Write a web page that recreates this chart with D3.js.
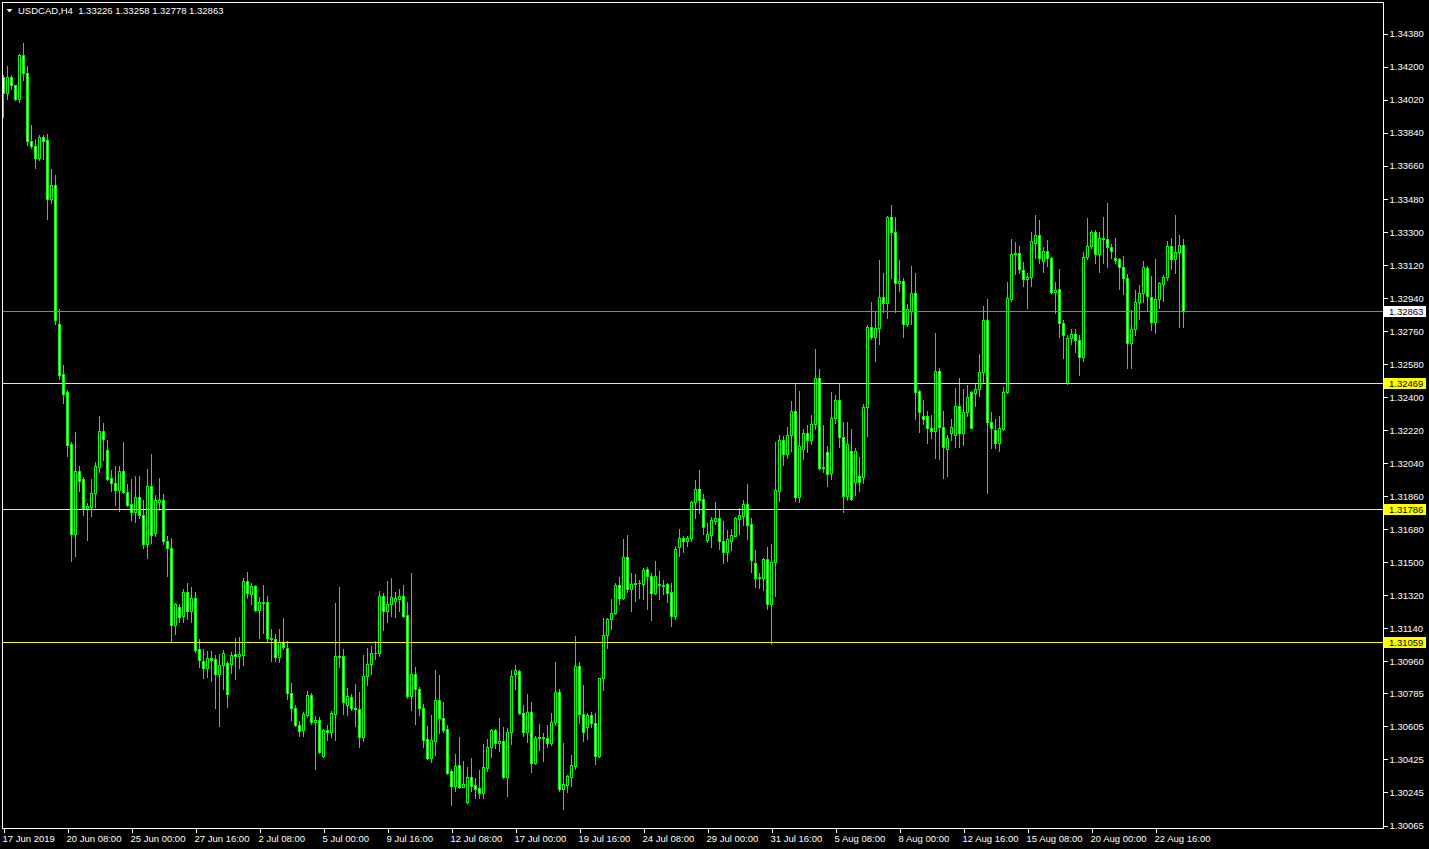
<!DOCTYPE html>
<html>
<head>
<meta charset="utf-8">
<title>USDCAD,H4</title>
<script src="https://cdn.jsdelivr.net/npm/d3@7"></script>
<style>
  html, body { margin: 0; padding: 0; background: #000; overflow: hidden; }
  svg { display: block; }
  text { font-family: "Liberation Sans", Arial, sans-serif; font-size: 9.5px; }
</style>
</head>
<body>
<svg id="chart"></svg>
<script>
//---------------------
// data: USDCAD H4, one value per bar
//---------------------
const symbol = "USDCAD";
const period = "H4";

const opens = [
  1.34143,1.34051,1.34143,1.34094,1.34020,1.34259,1.34163,1.33790,1.33767,1.33701,
  1.33812,1.33795,1.33476,1.33551,1.32795,1.32522,1.32422,1.32141,1.31648,1.31994,
  1.31952,1.31792,1.31798,1.31874,1.32016,1.32212,1.32108,1.31956,1.31929,1.31892,
  1.31995,1.31880,1.31816,1.31771,1.31852,1.31756,1.31594,1.31914,1.31657,1.31824,
  1.31838,1.31615,1.31576,1.31156,1.31250,1.31205,1.31335,1.31231,1.31304,1.31024,
  1.30957,1.30921,1.30975,1.30970,1.30885,1.30934,1.30948,1.30943,1.30997,1.30988,
  1.30993,1.31395,1.31322,1.31368,1.31235,1.31279,1.31279,1.31083,1.31077,1.30979,
  1.31064,1.31028,1.30786,1.30701,1.30610,1.30583,1.30665,1.30774,1.30625,1.30637,
  1.30443,1.30583,1.30574,1.30669,1.30986,1.30986,1.30719,1.30764,1.30701,1.30697,
  1.30546,1.30877,1.30943,1.31001,1.31001,1.31313,1.31233,1.31268,1.31287,1.31298,
  1.31313,1.31210,1.30770,1.30886,1.30806,1.30701,1.30532,1.30432,1.30525,1.30746,
  1.30647,1.30588,1.30360,1.30280,1.30392,1.30274,1.30192,1.30325,1.30283,1.30265,
  1.30238,1.30378,1.30489,1.30583,1.30511,1.30525,1.30329,1.30570,1.30886,1.30906,
  1.30677,1.30574,1.30683,1.30402,1.30538,1.30546,1.30538,1.30514,1.30625,1.30788,
  1.30260,1.30283,1.30325,1.30389,1.30932,1.30670,1.30601,1.30665,1.30620,1.30443,
  1.30868,1.31099,1.31186,1.31222,1.31373,1.31304,1.31524,1.31350,1.31377,1.31382,
  1.31377,1.31458,1.31424,1.31331,1.31378,1.31373,1.31377,1.31333,1.31206,1.31577,
  1.31626,1.31613,1.31626,1.31827,1.31898,1.31839,1.31618,1.31645,1.31722,1.31740,
  1.31610,1.31550,1.31610,1.31640,1.31731,1.31749,1.31813,1.31704,1.31491,1.31411,
  1.31411,1.31515,1.31269,1.31496,1.31886,1.32165,1.32089,1.32189,1.32319,1.31852,
  1.32114,1.32201,1.32161,1.32250,1.32501,1.32012,1.32096,1.31982,1.32281,1.32381,
  1.32181,1.31859,1.32103,1.31936,1.31967,1.31963,1.32341,1.32777,1.32722,1.32771,
  1.32944,1.32908,1.33376,1.33298,1.33017,1.33029,1.32793,1.32867,1.32962,1.32430,
  1.32294,1.32294,1.32227,1.32214,1.32540,1.32235,1.32112,1.32199,1.32190,1.32350,
  1.32199,1.32314,1.32423,1.32421,1.32439,1.32535,1.32817,1.32259,1.32217,1.32148,
  1.32223,1.32423,1.32931,1.33176,1.33180,1.33089,1.33038,1.33049,1.33238,1.33280,
  1.33138,1.33193,1.33156,1.32971,1.32984,1.32799,1.32475,1.32717,1.32739,1.32708,
  1.32617,1.33158,1.33221,1.33298,1.33175,1.33262,1.33258,1.33216,1.33153,1.33147,
  1.33107,1.33044,1.32690,1.32766,1.32916,1.32965,1.33098,1.32944,1.32807,1.32929,
  1.33013,1.33049,1.33220,1.33147,1.33189,1.33226
];

const highs = [
  1.34151,1.34198,1.34149,1.34097,1.34265,1.34324,1.34198,1.33879,1.33804,1.33823,
  1.33823,1.33830,1.33639,1.33607,1.32874,1.32572,1.32436,1.32150,1.32207,1.32021,
  1.31963,1.31820,1.31948,1.32043,1.32294,1.32256,1.32163,1.31999,1.32019,1.32019,
  1.32149,1.31925,1.31952,1.31965,1.31965,1.31838,1.32006,1.32088,1.31865,1.31956,
  1.31870,1.31640,1.31626,1.31272,1.31269,1.31351,1.31382,1.31362,1.31335,1.31079,
  1.31024,1.31011,1.31011,1.30992,1.30997,1.31020,1.30961,1.31008,1.31082,1.31087,
  1.31409,1.31444,1.31382,1.31373,1.31306,1.31373,1.31313,1.31132,1.31106,1.31132,
  1.31192,1.31068,1.30837,1.30719,1.30632,1.30683,1.30795,1.30783,1.30661,1.30656,
  1.30588,1.30610,1.30687,1.31277,1.31364,1.31024,1.30813,1.30779,1.30834,1.30792,
  1.30992,1.31028,1.31041,1.31068,1.31340,1.31328,1.31395,1.31413,1.31333,1.31351,
  1.31373,1.31282,1.31440,1.30925,1.30819,1.30725,1.30605,1.30665,1.30910,1.30883,
  1.30737,1.30610,1.30370,1.30452,1.30546,1.30414,1.30383,1.30429,1.30320,1.30365,
  1.30507,1.30534,1.30588,1.30587,1.30647,1.30598,1.30592,1.30910,1.30937,1.30910,
  1.30719,1.30779,1.30734,1.30550,1.30614,1.30565,1.30610,1.30677,1.30953,1.30805,
  1.30511,1.30335,1.30447,1.31095,1.30952,1.30828,1.30674,1.30683,1.30674,1.30866,
  1.31193,1.31192,1.31297,1.31385,1.31418,1.31623,1.31645,1.31437,1.31433,1.31400,
  1.31467,1.31473,1.31437,1.31504,1.31449,1.31400,1.31385,1.31385,1.31587,1.31678,
  1.31640,1.31640,1.31831,1.31943,1.31997,1.31867,1.31713,1.31743,1.31827,1.31782,
  1.31722,1.31673,1.31680,1.31743,1.31794,1.31834,1.31921,1.31740,1.31565,1.31438,
  1.31520,1.31577,1.31596,1.32152,1.32192,1.32183,1.32234,1.32376,1.32472,1.32431,
  1.32220,1.32246,1.32301,1.32659,1.32550,1.32245,1.32130,1.32423,1.32408,1.32468,
  1.32259,1.32259,1.32221,1.32121,1.32072,1.32359,1.32789,1.32913,1.32862,1.33144,
  1.33071,1.33385,1.33443,1.33376,1.33144,1.33044,1.32904,1.33111,1.33071,1.32435,
  1.32381,1.32321,1.32299,1.32744,1.32554,1.32321,1.32190,1.32277,1.32445,1.32499,
  1.32439,1.32463,1.32430,1.32472,1.32631,1.32893,1.32931,1.32317,1.32277,1.32294,
  1.32450,1.33025,1.33258,1.33243,1.33220,1.33134,1.33071,1.33294,1.33389,1.33361,
  1.33216,1.33253,1.33160,1.33025,1.33095,1.32817,1.32735,1.32766,1.32766,1.32735,
  1.33189,1.33371,1.33307,1.33307,1.33294,1.33376,1.33452,1.33231,1.33262,1.33156,
  1.33165,1.33067,1.32871,1.32980,1.33007,1.33138,1.33112,1.33056,1.33147,1.33025,
  1.33062,1.33247,1.33262,1.33389,1.33280,1.33258
];

const lows = [
  1.33923,1.34020,1.34075,1.34015,1.34002,1.34125,1.33771,1.33754,1.33643,1.33688,
  1.33694,1.33367,1.33454,1.32792,1.32495,1.32366,1.32074,1.31506,1.31531,1.31885,
  1.31754,1.31620,1.31746,1.31798,1.31989,1.32051,1.31945,1.31885,1.31811,1.31776,
  1.31874,1.31803,1.31727,1.31716,1.31738,1.31576,1.31518,1.31603,1.31640,1.31782,
  1.31594,1.31422,1.31066,1.31106,1.31169,1.31172,1.31190,1.31172,1.31010,1.30926,
  1.30866,1.30872,1.30852,1.30703,1.30603,1.30804,1.30708,1.30894,1.30858,1.30921,
  1.30937,1.31304,1.31269,1.31231,1.31086,1.31110,1.31064,1.30961,1.30961,1.30955,
  1.31024,1.30750,1.30637,1.30606,1.30552,1.30552,1.30656,1.30616,1.30370,1.30456,
  1.30438,1.30529,1.30546,1.30529,1.30928,1.30670,1.30665,1.30692,1.30606,1.30489,
  1.30525,1.30828,1.30886,1.30970,1.30988,1.31128,1.31173,1.31206,1.31200,1.31233,
  1.31200,1.30756,1.30692,1.30616,1.30665,1.30492,1.30423,1.30407,1.30447,1.30565,
  1.30574,1.30343,1.30174,1.30252,1.30265,1.30271,1.30185,1.30252,1.30211,1.30214,
  1.30211,1.30361,1.30438,1.30487,1.30470,1.30323,1.30225,1.30505,1.30805,1.30670,
  1.30552,1.30519,1.30353,1.30398,1.30474,1.30416,1.30492,1.30501,1.30610,1.30252,
  1.30153,1.30247,1.30278,1.30369,1.30620,1.30525,1.30532,1.30598,1.30398,1.30438,
  1.30801,1.31031,1.31132,1.31215,1.31269,1.31297,1.31336,1.31233,1.31287,1.31300,
  1.31295,1.31242,1.31182,1.31322,1.31297,1.31322,1.31282,1.31151,1.31186,1.31532,
  1.31553,1.31585,1.31613,1.31740,1.31764,1.31651,1.31607,1.31581,1.31705,1.31569,
  1.31493,1.31505,1.31565,1.31637,1.31651,1.31700,1.31624,1.31442,1.31362,1.31355,
  1.31347,1.31242,1.31053,1.31310,1.31831,1.32027,1.32062,1.32103,1.31831,1.31825,
  1.32057,1.32098,1.32143,1.32223,1.32002,1.31990,1.31914,1.31949,1.32254,1.32123,
  1.31772,1.31836,1.31836,1.31863,1.31885,1.31930,1.32186,1.32712,1.32593,1.32686,
  1.32862,1.32829,1.33047,1.32862,1.32976,1.32722,1.32784,1.32795,1.32277,1.32208,
  1.32250,1.32145,1.32172,1.32066,1.32058,1.31958,1.31968,1.32163,1.32126,1.32126,
  1.32136,1.32294,1.32227,1.32350,1.32404,1.32475,1.31873,1.32121,1.32118,1.32105,
  1.32217,1.32417,1.32922,1.33066,1.33071,1.33002,1.32884,1.33002,1.33153,1.33126,
  1.33080,1.33112,1.32965,1.32853,1.32726,1.32611,1.32470,1.32686,1.32641,1.32517,
  1.32595,1.33149,1.33207,1.33126,1.33080,1.33129,1.33107,1.33153,1.33126,1.32984,
  1.32957,1.32557,1.32557,1.32735,1.32821,1.32916,1.32871,1.32762,1.32748,1.32880,
  1.32922,1.33035,1.33095,1.33074,1.32780,1.32778
];

const closes = [
  1.34051,1.34143,1.34094,1.34020,1.34259,1.34163,1.33790,1.33767,1.33701,1.33812,
  1.33793,1.33473,1.33551,1.32814,1.32514,1.32414,1.32138,1.31648,1.31994,1.31940,
  1.31792,1.31801,1.31874,1.32021,1.32212,1.32168,1.31952,1.31929,1.31892,1.31995,
  1.31878,1.31811,1.31771,1.31852,1.31754,1.31594,1.31914,1.31645,1.31833,1.31838,
  1.31613,1.31576,1.31156,1.31269,1.31196,1.31335,1.31231,1.31304,1.31020,1.30966,
  1.30921,1.30975,1.30966,1.30885,1.30937,1.31000,1.30776,1.30992,1.30988,1.30997,
  1.31397,1.31328,1.31368,1.31235,1.31279,1.31277,1.31083,1.31079,1.30979,1.31064,
  1.31034,1.30786,1.30701,1.30610,1.30579,1.30670,1.30774,1.30625,1.30637,1.30465,
  1.30583,1.30574,1.30674,1.30986,1.30982,1.30734,1.30768,1.30701,1.30696,1.30546,
  1.30877,1.30943,1.31001,1.31004,1.31313,1.31233,1.31269,1.31306,1.31300,1.31313,
  1.31206,1.30770,1.30886,1.30805,1.30701,1.30529,1.30432,1.30529,1.30746,1.30650,
  1.30583,1.30350,1.30280,1.30387,1.30274,1.30289,1.30325,1.30280,1.30262,1.30238,
  1.30380,1.30489,1.30583,1.30511,1.30525,1.30329,1.30570,1.30879,1.30910,1.30677,
  1.30574,1.30683,1.30402,1.30538,1.30546,1.30538,1.30514,1.30625,1.30788,1.30260,
  1.30287,1.30332,1.30392,1.30932,1.30669,1.30574,1.30665,1.30620,1.30443,1.30865,
  1.31099,1.31186,1.31219,1.31373,1.31304,1.31524,1.31350,1.31377,1.31382,1.31385,
  1.31455,1.31424,1.31331,1.31422,1.31373,1.31369,1.31331,1.31206,1.31567,1.31626,
  1.31613,1.31629,1.31827,1.31898,1.31836,1.31691,1.31651,1.31725,1.31740,1.31610,
  1.31550,1.31624,1.31645,1.31736,1.31753,1.31813,1.31700,1.31510,1.31411,1.31418,
  1.31515,1.31269,1.31496,1.31888,1.32165,1.32087,1.32192,1.32319,1.31852,1.32132,
  1.32201,1.32161,1.32250,1.32501,1.32012,1.32017,1.31976,1.32281,1.32381,1.32181,
  1.31859,1.32140,1.31840,1.32103,1.31936,1.32341,1.32777,1.32722,1.32771,1.32944,
  1.32908,1.33376,1.33298,1.33017,1.33029,1.32793,1.32875,1.32962,1.32426,1.32317,
  1.32276,1.32227,1.32214,1.32540,1.32235,1.32123,1.32172,1.32232,1.32350,1.32199,
  1.32314,1.32399,1.32230,1.32439,1.32535,1.32817,1.32259,1.32227,1.32148,1.32227,
  1.32423,1.32935,1.33176,1.33180,1.33093,1.33038,1.33049,1.33247,1.33280,1.33153,
  1.33193,1.33153,1.32971,1.32980,1.32799,1.32735,1.32717,1.32739,1.32708,1.32617,
  1.33158,1.33221,1.33298,1.33175,1.33262,1.33258,1.33216,1.33194,1.33144,1.33104,
  1.33044,1.32690,1.32766,1.32916,1.32965,1.33104,1.32947,1.32807,1.32929,1.33017,
  1.33049,1.33220,1.33147,1.33189,1.33225,1.32863
];

// time axis: a label every 16 bars
const timeLabelBars = [0,16,32,48,64,80,96,112,128,144,160,176,192,208,224,240,256,272,288];
const timeLabels = [
  "17 Jun 2019","20 Jun 08:00","25 Jun 00:00","27 Jun 16:00","2 Jul 08:00",
  "5 Jul 00:00","9 Jul 16:00","12 Jul 08:00","17 Jul 00:00","19 Jul 16:00",
  "24 Jul 08:00","29 Jul 00:00","31 Jul 16:00","5 Aug 08:00","8 Aug 00:00",
  "12 Aug 16:00","15 Aug 08:00","20 Aug 00:00","22 Aug 16:00"
];

// price axis labels as printed by the terminal
const priceTicks = [
  "1.34380","1.34200","1.34020","1.33840","1.33660","1.33480","1.33300","1.33120",
  "1.32940","1.32760","1.32580","1.32400","1.32220","1.32040","1.31860","1.31680",
  "1.31500","1.31320","1.31140","1.30960","1.30785","1.30605","1.30425","1.30245","1.30065"
];

// bid line + three horizontal levels
const levelPrices = [1.32863, 1.32469, 1.31786, 1.31059];
const levelTypes  = ["bid", "hline", "hline", "hline"];


//---------------------
// layout
//---------------------
const width = 1429;
const height = 849;
const frame = { left: 2, top: 2, right: 1383, bottom: 828 };
const barStep = 4;            // pixels per bar
const firstBarX = 3.5;        // centre of the first visible bar

const UP = "#00ff00";
const BULL_FILL = "#000000";
const BEAR_FILL = "#ffffff";
const BID_COLOR = "#778899";
const LEVEL_COLOR = "#ffff00";

const n = opens.length;
if ([highs, lows, closes].some(a => a.length !== n)) console.error("OHLC length mismatch");

const bars = d3.range(n).map(i => ({
  i, o: opens[i], h: highs[i], l: lows[i], c: closes[i]
}));

const x = d3.scaleLinear()
  .domain([0, n - 1])
  .range([firstBarX, firstBarX + barStep * (n - 1)]);

const tickNums = priceTicks.map(Number);
const y = d3.scaleLinear()
  .domain([d3.min(tickNums), d3.max(tickNums)])
  .range([825, 33]);

const py = p => Math.round(y(p));   // snap prices to pixel rows
const ly = p => Math.floor(y(p));   // rows for the level lines

const svg = d3.select("#chart")
  .attr("width", width)
  .attr("height", height);

svg.append("rect")
  .attr("width", width).attr("height", height)
  .attr("fill", "#000");

svg.append("defs").append("clipPath").attr("id", "plot-clip")
  .append("rect")
    .attr("x", frame.left + 1).attr("y", frame.top + 1)
    .attr("width", frame.right - frame.left - 1)
    .attr("height", frame.bottom - frame.top - 1);

const plot = svg.append("g")
  .attr("clip-path", "url(#plot-clip)")
  .attr("shape-rendering", "crispEdges");


//---------------------
// candles
//---------------------
const candle = plot.append("g").attr("class", "candles")
  .selectAll("g")
  .data(bars)
  .enter().append("g");

// wick
candle.append("rect")
  .attr("x", d => x(d.i) - 0.5)
  .attr("y", d => py(d.h))
  .attr("width", 1)
  .attr("height", d => py(d.l) - py(d.h) + 1)
  .attr("fill", UP);

// body outline
candle.append("rect")
  .attr("x", d => x(d.i) - 1.5)
  .attr("y", d => py(Math.max(d.o, d.c)))
  .attr("width", 3)
  .attr("height", d => py(Math.min(d.o, d.c)) - py(Math.max(d.o, d.c)) + 1)
  .attr("fill", UP);

// body fill (black for bull, white for bear)
candle.append("rect")
  .attr("x", d => x(d.i) - 0.5)
  .attr("y", d => py(Math.max(d.o, d.c)) + 1)
  .attr("width", 1)
  .attr("height", d => Math.max(0, py(Math.min(d.o, d.c)) - py(Math.max(d.o, d.c)) - 1))
  .attr("fill", d => d.c >= d.o ? BULL_FILL : BEAR_FILL);


//---------------------
// horizontal levels and bid line
//---------------------
const levels = levelPrices.map((p, k) => ({ p, type: levelTypes[k] }));

plot.append("g").attr("class", "levels")
  .selectAll("line")
  .data(levels)
  .enter().append("line")
    .attr("x1", frame.left)
    .attr("x2", frame.right)
    .attr("y1", d => ly(d.p) + 0.5)
    .attr("y2", d => ly(d.p) + 0.5)
    .attr("stroke", d => d.type === "bid" ? BID_COLOR : LEVEL_COLOR)
    .attr("stroke-width", 1);


//---------------------
// frame and axes
//---------------------
svg.append("rect")
  .attr("x", frame.left + 0.5).attr("y", frame.top + 0.5)
  .attr("width", frame.right - frame.left)
  .attr("height", frame.bottom - frame.top)
  .attr("fill", "none")
  .attr("stroke", "#fff")
  .attr("shape-rendering", "crispEdges");

const yAxis = d3.axisRight(y)
  .tickValues(tickNums)
  .tickFormat((d, k) => priceTicks[k])
  .tickSize(4)
  .tickSizeOuter(0)
  .tickPadding(2);

const yAxisG = svg.append("g")
  .attr("transform", `translate(${frame.right + 0.5},0.5)`)
  .call(yAxis);
yAxisG.select(".domain").remove();
yAxisG.selectAll("line").attr("stroke", "#fff").attr("shape-rendering", "crispEdges");
yAxisG.selectAll("text")
  .attr("fill", "#fff")
  .attr("dy", "0.35em");
yAxisG.attr("font-family", null).attr("font-size", null);

const xAxis = d3.axisBottom(x)
  .tickValues(timeLabelBars)
  .tickFormat((d, k) => timeLabels[k])
  .tickSize(4)
  .tickSizeOuter(0)
  .tickPadding(3);

const xAxisG = svg.append("g")
  .attr("transform", `translate(0,${frame.bottom + 0.5})`)
  .call(xAxis);
xAxisG.select(".domain").remove();
xAxisG.selectAll("line").attr("stroke", "#fff").attr("shape-rendering", "crispEdges");
xAxisG.selectAll("text")
  .attr("fill", "#fff")
  .attr("text-anchor", "start")
  .attr("x", -1.5);
xAxisG.attr("font-family", null).attr("font-size", null);

// price boxes on the axis for each level
const tags = svg.append("g").attr("class", "level-tags")
  .selectAll("g")
  .data(levels)
  .enter().append("g")
    .attr("transform", d => `translate(${frame.right + 1},${ly(d.p)})`);

tags.append("rect")
  .attr("x", 0).attr("y", -5)
  .attr("width", 42).attr("height", 11)
  .attr("fill", d => d.type === "bid" ? "#fff" : LEVEL_COLOR)
  .attr("shape-rendering", "crispEdges");

tags.append("text")
  .attr("x", 5).attr("y", 4)
  .attr("fill", "#000")
  .text(d => d.p.toFixed(5));


//---------------------
// header: symbol, period and last bar OHLC
//---------------------
svg.append("path")
  .attr("d", "M6.5,9 L12.5,9 L9.5,12.5 Z")
  .attr("fill", "#fff");

const last = bars[n - 1];
svg.append("text")
  .attr("x", 18)
  .attr("y", 14)
  .attr("fill", "#fff")
  .style("white-space", "pre")
  .text(`${symbol},${period}  ${[last.o, last.h, last.l, last.c].map(v => v.toFixed(5)).join(" ")}`);
</script>
</body>
</html>
